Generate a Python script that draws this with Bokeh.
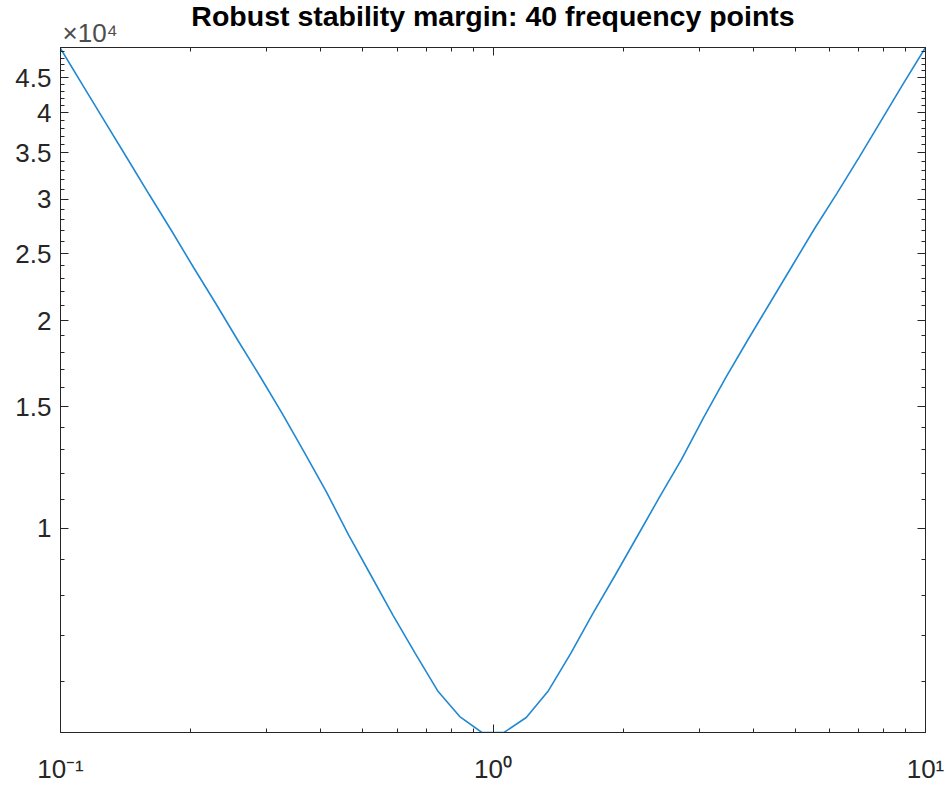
from bokeh.plotting import figure
from bokeh.models import Range1d, FixedTicker, LogAxis, Title
from bokeh.embed import file_html
from bokeh.resources import INLINE

# 40 frequency points (rad/s), logarithmically spaced 0.1 .. 10
freq = [0.1, 0.11253, 0.12664, 0.14251, 0.16037, 0.18047, 0.20309, 0.22855,
        0.25719, 0.28943, 0.32570, 0.36653, 0.41247, 0.46416, 0.52233, 0.58782,
        0.66147, 0.74438, 0.83768, 0.94267, 1.06082, 1.19378, 1.34340, 1.51178,
        1.70125, 1.91448, 2.15443, 2.42446, 2.72833, 3.07029, 3.45511, 3.88816,
        4.37548, 4.92388, 5.54102, 6.23551, 7.01704, 7.89652, 8.88624, 10.0]

# robust stability margin
margin = [49570, 43880, 38850, 34400, 30450, 27010, 23870, 21170, 18710, 16590,
          14660, 12870, 11270, 9760, 8540, 7470, 6580, 5815, 5333, 5057,
          5060, 5316, 5815, 6580, 7520, 8540, 9727, 11080, 12580, 14470,
          16540, 18770, 21240, 24030, 27190, 30550, 34450, 38980, 44100, 49740]

x_major = [0.1, 1, 10]
x_major_labels = ["10\u207b\u00b9", "10\u2070", "10\u00b9"]
x_minor = [0.2, 0.3, 0.4, 0.5, 0.6, 0.7, 0.8, 0.9, 2, 3, 4, 5, 6, 7, 8, 9]

y_major = [10000, 15000, 20000, 25000, 30000, 35000, 40000, 45000]
y_major_labels = ["1", "1.5", "2", "2.5", "3", "3.5", "4", "4.5"]
y_minor = [v * 1000 for v in range(6, 50) if v % 5 != 0]

title = "Robust stability margin: 40 frequency points"
exponent_label = "\u00d710\u2074"

FONT = "Liberation Sans"
AX = "#262626"

W, H = 946, 789
B_LEFT, B_RIGHT, B_TOP, B_BOTTOM = 60, 21, 47, 57

p = figure(width=W, height=H, output_backend="svg", toolbar_location=None,
           x_axis_type="log", y_axis_type="log",
           x_range=Range1d(min(freq), max(freq)),
           y_range=Range1d(min(margin), max(margin)),
           min_border_left=B_LEFT, min_border_right=B_RIGHT,
           min_border_top=B_TOP, min_border_bottom=B_BOTTOM)

p.grid.visible = False
p.outline_line_color = AX
p.outline_line_width = 1
p.background_fill_color = "white"
p.border_fill_color = "white"

p.line(freq, margin, line_color="#2188d2", line_width=1.6)

xt = FixedTicker(ticks=x_major, minor_ticks=x_minor)
yt = FixedTicker(ticks=y_major, minor_ticks=y_minor)

p.add_layout(LogAxis(), "above")
p.add_layout(LogAxis(), "right")

for ax in p.xaxis:
    ax.ticker = xt
for ax in p.yaxis:
    ax.ticker = yt

for ax in p.xaxis + p.yaxis:
    ax.axis_line_color = AX
    ax.major_tick_line_color = AX
    ax.minor_tick_line_color = AX
    ax.major_tick_in = 8
    ax.major_tick_out = 0
    ax.minor_tick_in = 4
    ax.minor_tick_out = 0
    ax.major_label_text_font = FONT
    ax.major_label_text_color = AX
    ax.major_label_text_font_size = "26px"

p.below[0].major_label_overrides = dict(zip(x_major, x_major_labels))
p.below[0].major_label_standoff = 21
p.left[0].major_label_overrides = dict(zip(y_major, y_major_labels))
p.left[0].major_label_standoff = 9

for ax in (p.above[-1], p.right[-1]):
    ax.major_label_text_font_size = "2px"
    ax.major_label_text_color = None
    ax.major_label_standoff = 0

# exponent of the y axis, just above the top-left corner of the axes box
p.add_layout(Title(text=exponent_label, align="left", offset=2, standoff=0,
                   text_font=FONT, text_font_size="26px", text_font_style="normal",
                   text_color="#4d4d4d"), "above")

p.title.text = title
p.title.align = "center"
p.title.text_font = FONT
p.title.text_font_size = "28.5px"
p.title.text_font_style = "bold"
p.title.text_color = "#000000"
p.title.standoff = -49
if "padding" in p.title.properties():
    p.title.padding = 8

open("out.html", "w").write(file_html(p, INLINE))
